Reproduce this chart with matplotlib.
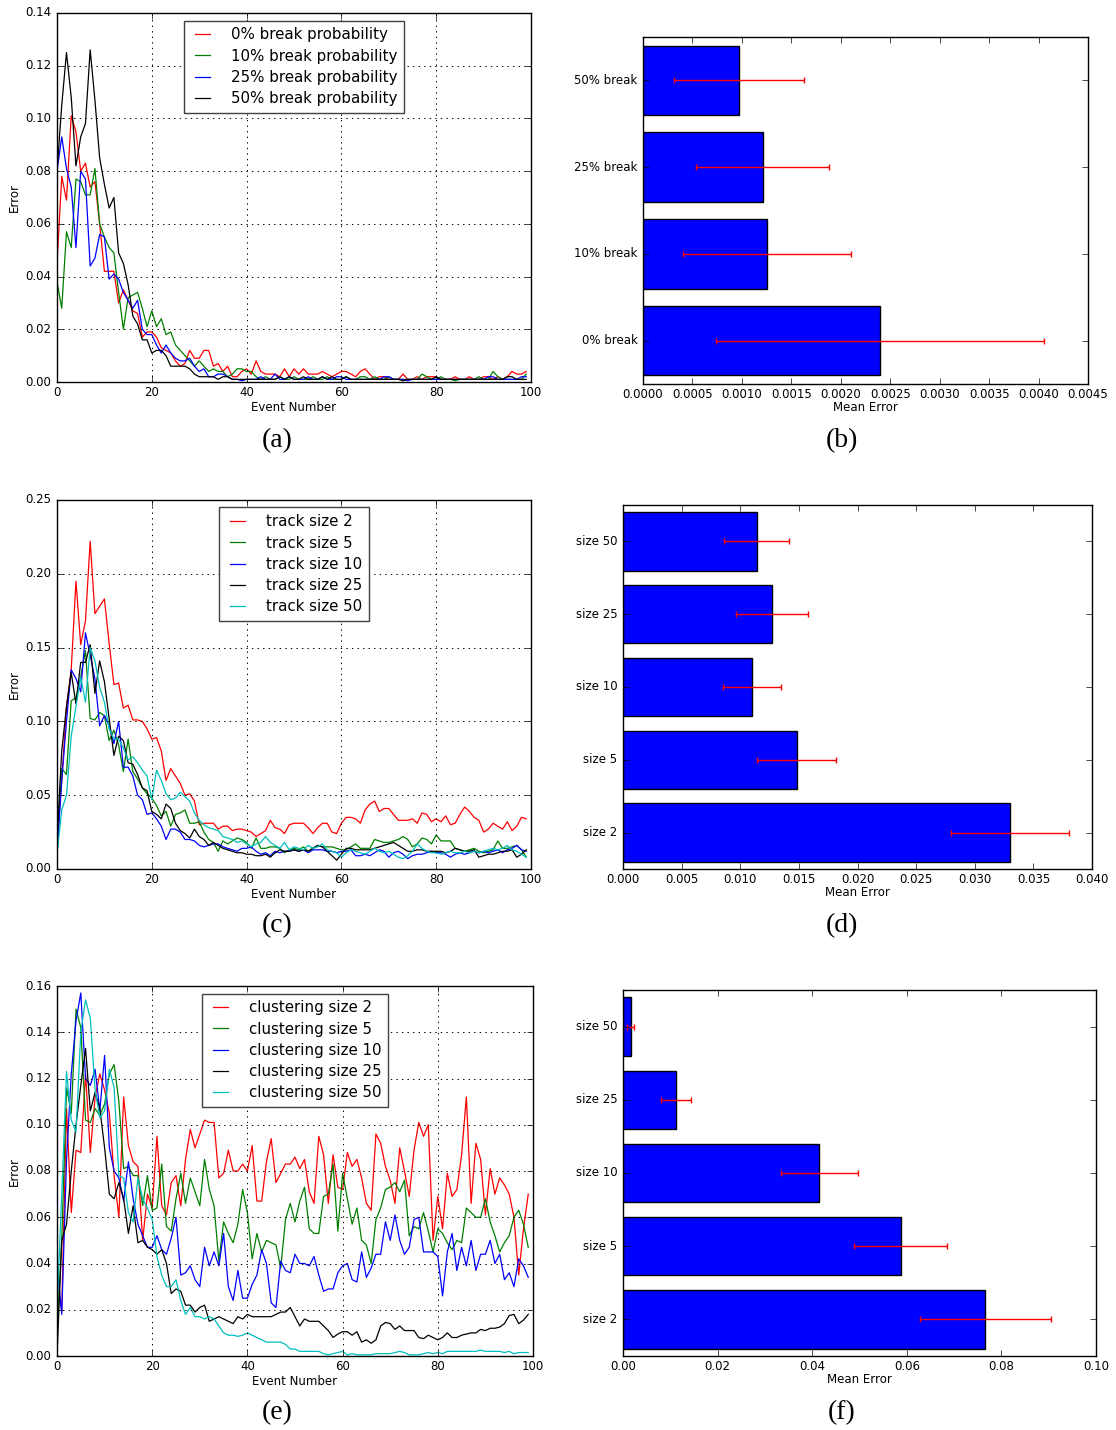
import numpy as np
import matplotlib
matplotlib.use('Agg')
from matplotlib import pyplot as plt
from matplotlib.ticker import FormatStrFormatter

# event index on the x axis of the line plots
events = np.arange(100)

# (a) error per event for different break probabilities
break_labels = ['0% break probability', '10% break probability',
                '25% break probability', '50% break probability']
break_0 = [0.045, 0.078, 0.069, 0.101, 0.095, 0.080, 0.083, 0.074, 0.076, 0.060,
           0.042, 0.042, 0.042, 0.030, 0.035, 0.031, 0.027, 0.026, 0.017, 0.019,
           0.019, 0.017, 0.013, 0.012, 0.011, 0.008, 0.006, 0.007, 0.012, 0.009,
           0.009, 0.012, 0.012, 0.006, 0.007, 0.004, 0.006, 0.002, 0.002, 0.004,
           0.005, 0.003, 0.008, 0.004, 0.003, 0.003, 0.003, 0.002, 0.005, 0.002,
           0.005, 0.003, 0.005, 0.003, 0.003, 0.003, 0.004, 0.003, 0.002, 0.003,
           0.004, 0.004, 0.003, 0.002, 0.004, 0.005, 0.003, 0.001, 0.002, 0.002,
           0.001, 0.001, 0.001, 0.003, 0.001, 0.001, 0.002, 0.001, 0.002, 0.002,
           0.002, 0.001, 0.001, 0.001, 0.002, 0.001, 0.001, 0.002, 0.001, 0.001,
           0.002, 0.002, 0.001, 0.002, 0.001, 0.002, 0.004, 0.003, 0.003, 0.004]
break_10 = [0.038, 0.028, 0.057, 0.051, 0.077, 0.076, 0.071, 0.071, 0.081, 0.060,
            0.055, 0.051, 0.049, 0.034, 0.020, 0.032, 0.033, 0.034, 0.028, 0.021,
            0.027, 0.021, 0.024, 0.018, 0.019, 0.014, 0.012, 0.010, 0.008, 0.006,
            0.008, 0.006, 0.004, 0.005, 0.004, 0.004, 0.002, 0.003, 0.005, 0.005,
            0.004, 0.004, 0.002, 0.001, 0.002, 0.001, 0.001, 0.002, 0.001, 0.001,
            0.002, 0.001, 0.001, 0.001, 0.002, 0.001, 0.001, 0.002, 0.001, 0.001,
            0.001, 0.002, 0.001, 0.001, 0.002, 0.002, 0.001, 0.002, 0.001, 0.001,
            0.002, 0.001, 0.001, 0.001, 0.001, 0.001, 0.001, 0.003, 0.002, 0.001,
            0.001, 0.002, 0.001, 0.001, 0.0005, 0.001, 0.001, 0.001, 0.001, 0.002,
            0.001, 0.001, 0.004, 0.002, 0.001, 0.001, 0.001, 0.001, 0.001, 0.003]
break_25 = [0.080, 0.093, 0.081, 0.074, 0.051, 0.080, 0.077, 0.044, 0.047, 0.056,
            0.055, 0.039, 0.041, 0.039, 0.034, 0.031, 0.028, 0.031, 0.020, 0.018,
            0.018, 0.014, 0.011, 0.014, 0.011, 0.009, 0.008, 0.008, 0.009, 0.006,
            0.004, 0.005, 0.002, 0.002, 0.003, 0.003, 0.002, 0.001, 0.001, 0.0005,
            0.001, 0.001, 0.001, 0.002, 0.001, 0.001, 0.003, 0.001, 0.001, 0.002,
            0.001, 0.001, 0.001, 0.002, 0.001, 0.001, 0.002, 0.001, 0.001, 0.002,
            0.002, 0.001, 0.001, 0.001, 0.001, 0.001, 0.001, 0.001, 0.001, 0.002,
            0.002, 0.001, 0.001, 0.001, 0.0005, 0.001, 0.001, 0.001, 0.001, 0.001,
            0.001, 0.001, 0.001, 0.001, 0.001, 0.001, 0.001, 0.001, 0.001, 0.001,
            0.001, 0.002, 0.002, 0.001, 0.001, 0.001, 0.001, 0.001, 0.002, 0.002]
break_50 = [0.080, 0.105, 0.125, 0.108, 0.082, 0.093, 0.098, 0.126, 0.107, 0.085,
            0.075, 0.066, 0.070, 0.049, 0.045, 0.037, 0.025, 0.022, 0.016, 0.016,
            0.011, 0.012, 0.012, 0.010, 0.006, 0.006, 0.006, 0.006, 0.005, 0.003,
            0.002, 0.002, 0.002, 0.002, 0.001, 0.002, 0.002, 0.001, 0.001, 0.001,
            0.001, 0.001, 0.001, 0.001, 0.001, 0.001, 0.001, 0.002, 0.001, 0.002,
            0.001, 0.001, 0.002, 0.001, 0.001, 0.001, 0.002, 0.001, 0.002, 0.001,
            0.001, 0.002, 0.001, 0.001, 0.001, 0.001, 0.001, 0.001, 0.001, 0.001,
            0.001, 0.001, 0.001, 0.0005, 0.001, 0.001, 0.001, 0.001, 0.001, 0.001,
            0.002, 0.001, 0.001, 0.001, 0.001, 0.001, 0.001, 0.001, 0.001, 0.001,
            0.001, 0.001, 0.001, 0.001, 0.001, 0.002, 0.002, 0.001, 0.001, 0.001]

# (c) error per event for different track sizes
track_labels = ['track size 2', 'track size 5', 'track size 10',
                'track size 25', 'track size 50']
track_2 = [0.020, 0.060, 0.110, 0.135, 0.195, 0.152, 0.168, 0.222, 0.173, 0.178,
           0.183, 0.153, 0.125, 0.126, 0.109, 0.111, 0.101, 0.101, 0.100, 0.095,
           0.088, 0.089, 0.080, 0.060, 0.068, 0.063, 0.058, 0.050, 0.051, 0.046,
           0.030, 0.031, 0.031, 0.031, 0.027, 0.029, 0.029, 0.026, 0.027, 0.027,
           0.026, 0.025, 0.022, 0.024, 0.026, 0.033, 0.028, 0.027, 0.024, 0.030,
           0.031, 0.031, 0.031, 0.028, 0.024, 0.028, 0.031, 0.031, 0.025, 0.024,
           0.031, 0.035, 0.035, 0.034, 0.031, 0.040, 0.044, 0.046, 0.039, 0.041,
           0.041, 0.037, 0.033, 0.033, 0.033, 0.034, 0.031, 0.038, 0.037, 0.032,
           0.034, 0.032, 0.036, 0.030, 0.031, 0.037, 0.042, 0.039, 0.035, 0.033,
           0.025, 0.027, 0.031, 0.029, 0.027, 0.032, 0.026, 0.029, 0.035, 0.034]
track_5 = [0.010, 0.068, 0.064, 0.114, 0.116, 0.130, 0.148, 0.102, 0.101, 0.106,
           0.104, 0.087, 0.094, 0.084, 0.066, 0.088, 0.066, 0.061, 0.055, 0.051,
           0.048, 0.043, 0.036, 0.039, 0.029, 0.037, 0.038, 0.040, 0.031, 0.031,
           0.032, 0.025, 0.020, 0.018, 0.012, 0.019, 0.017, 0.019, 0.021, 0.020,
           0.018, 0.014, 0.021, 0.014, 0.014, 0.015, 0.015, 0.014, 0.011, 0.013,
           0.014, 0.013, 0.015, 0.012, 0.014, 0.016, 0.015, 0.015, 0.015, 0.014,
           0.013, 0.013, 0.015, 0.017, 0.014, 0.014, 0.014, 0.020, 0.019, 0.018,
           0.018, 0.019, 0.020, 0.022, 0.020, 0.015, 0.017, 0.021, 0.020, 0.017,
           0.023, 0.019, 0.019, 0.019, 0.014, 0.013, 0.012, 0.013, 0.014, 0.012,
           0.011, 0.012, 0.013, 0.019, 0.014, 0.014, 0.015, 0.016, 0.013, 0.008]
track_10 = [0.010, 0.060, 0.100, 0.135, 0.129, 0.120, 0.160, 0.145, 0.129, 0.097,
            0.104, 0.097, 0.085, 0.100, 0.069, 0.069, 0.063, 0.050, 0.047, 0.037,
            0.038, 0.034, 0.029, 0.020, 0.027, 0.027, 0.025, 0.020, 0.020, 0.019,
            0.016, 0.015, 0.016, 0.017, 0.017, 0.015, 0.014, 0.013, 0.012, 0.014,
            0.014, 0.015, 0.012, 0.010, 0.011, 0.009, 0.012, 0.011, 0.012, 0.012,
            0.013, 0.012, 0.013, 0.011, 0.013, 0.013, 0.013, 0.012, 0.012, 0.011,
            0.012, 0.012, 0.013, 0.009, 0.009, 0.010, 0.009, 0.011, 0.013, 0.012,
            0.008, 0.011, 0.012, 0.010, 0.007, 0.009, 0.010, 0.010, 0.011, 0.012,
            0.011, 0.011, 0.010, 0.008, 0.010, 0.011, 0.010, 0.011, 0.012, 0.011,
            0.012, 0.011, 0.012, 0.013, 0.011, 0.013, 0.014, 0.016, 0.013, 0.012]
track_25 = [0.020, 0.080, 0.110, 0.133, 0.112, 0.140, 0.140, 0.152, 0.119, 0.141,
            0.127, 0.102, 0.077, 0.090, 0.087, 0.072, 0.071, 0.064, 0.055, 0.053,
            0.039, 0.037, 0.034, 0.044, 0.041, 0.031, 0.026, 0.024, 0.021, 0.027,
            0.022, 0.020, 0.016, 0.018, 0.016, 0.014, 0.013, 0.012, 0.011, 0.011,
            0.010, 0.010, 0.009, 0.009, 0.010, 0.008, 0.011, 0.013, 0.012, 0.012,
            0.013, 0.012, 0.013, 0.012, 0.014, 0.016, 0.015, 0.012, 0.009, 0.006,
            0.010, 0.014, 0.014, 0.013, 0.013, 0.013, 0.013, 0.014, 0.015, 0.016,
            0.017, 0.018, 0.016, 0.014, 0.012, 0.012, 0.013, 0.013, 0.012, 0.012,
            0.012, 0.012, 0.011, 0.012, 0.014, 0.013, 0.012, 0.012, 0.013, 0.008,
            0.009, 0.010, 0.010, 0.011, 0.012, 0.012, 0.013, 0.008, 0.010, 0.013]
track_50 = [0.010, 0.040, 0.050, 0.090, 0.110, 0.130, 0.113, 0.150, 0.141, 0.123,
            0.113, 0.095, 0.088, 0.088, 0.082, 0.074, 0.076, 0.072, 0.067, 0.063,
            0.047, 0.067, 0.060, 0.051, 0.047, 0.048, 0.052, 0.049, 0.046, 0.038,
            0.033, 0.030, 0.028, 0.027, 0.026, 0.022, 0.021, 0.020, 0.018, 0.019,
            0.017, 0.015, 0.017, 0.018, 0.022, 0.018, 0.016, 0.014, 0.018, 0.013,
            0.015, 0.014, 0.013, 0.016, 0.014, 0.015, 0.017, 0.013, 0.012, 0.011,
            0.008, 0.011, 0.013, 0.012, 0.011, 0.010, 0.012, 0.014, 0.012, 0.011,
            0.012, 0.010, 0.008, 0.007, 0.009, 0.012, 0.017, 0.014, 0.012, 0.011,
            0.011, 0.010, 0.011, 0.012, 0.011, 0.011, 0.012, 0.011, 0.012, 0.011,
            0.012, 0.013, 0.014, 0.013, 0.014, 0.016, 0.013, 0.012, 0.010, 0.008]

# (e) error per event for different clustering sizes
clust_labels = ['clustering size 2', 'clustering size 5', 'clustering size 10',
                'clustering size 25', 'clustering size 50']
clust_2 = [0.030, 0.020, 0.107, 0.062, 0.089, 0.088, 0.122, 0.088, 0.112, 0.122,
           0.115, 0.105, 0.078, 0.060, 0.112, 0.091, 0.084, 0.082, 0.050, 0.070,
           0.064, 0.095, 0.065, 0.061, 0.075, 0.078, 0.065, 0.085, 0.098, 0.090,
           0.096, 0.102, 0.101, 0.101, 0.077, 0.079, 0.089, 0.080, 0.080, 0.083,
           0.080, 0.091, 0.067, 0.067, 0.084, 0.094, 0.075, 0.079, 0.083, 0.083,
           0.086, 0.081, 0.085, 0.071, 0.066, 0.095, 0.087, 0.066, 0.087, 0.073,
           0.072, 0.088, 0.082, 0.085, 0.077, 0.066, 0.063, 0.096, 0.092, 0.082,
           0.076, 0.066, 0.090, 0.080, 0.069, 0.089, 0.101, 0.095, 0.100, 0.050,
           0.069, 0.055, 0.079, 0.069, 0.072, 0.087, 0.112, 0.066, 0.092, 0.085,
           0.061, 0.081, 0.070, 0.077, 0.074, 0.070, 0.060, 0.035, 0.055, 0.070]
clust_5 = [0.010, 0.050, 0.116, 0.105, 0.150, 0.142, 0.102, 0.101, 0.107, 0.104,
           0.109, 0.122, 0.126, 0.110, 0.081, 0.082, 0.078, 0.078, 0.065, 0.078,
           0.063, 0.064, 0.083, 0.056, 0.054, 0.068, 0.079, 0.066, 0.077, 0.071,
           0.065, 0.085, 0.072, 0.065, 0.041, 0.058, 0.053, 0.049, 0.057, 0.072,
           0.062, 0.042, 0.053, 0.045, 0.050, 0.049, 0.048, 0.038, 0.059, 0.066,
           0.058, 0.067, 0.073, 0.055, 0.053, 0.053, 0.069, 0.070, 0.083, 0.054,
           0.079, 0.068, 0.057, 0.064, 0.050, 0.048, 0.040, 0.059, 0.064, 0.072,
           0.073, 0.075, 0.071, 0.076, 0.052, 0.056, 0.055, 0.062, 0.054, 0.045,
           0.055, 0.053, 0.049, 0.046, 0.050, 0.049, 0.064, 0.062, 0.060, 0.060,
           0.068, 0.058, 0.052, 0.045, 0.049, 0.052, 0.060, 0.063, 0.057, 0.047]
clust_10 = [0.040, 0.018, 0.085, 0.122, 0.145, 0.157, 0.120, 0.117, 0.124, 0.106,
            0.130, 0.090, 0.080, 0.077, 0.067, 0.084, 0.068, 0.057, 0.052, 0.047,
            0.047, 0.052, 0.046, 0.044, 0.051, 0.060, 0.035, 0.036, 0.039, 0.033,
            0.030, 0.047, 0.039, 0.045, 0.039, 0.053, 0.030, 0.024, 0.037, 0.025,
            0.025, 0.031, 0.035, 0.046, 0.040, 0.023, 0.021, 0.041, 0.037, 0.036,
            0.044, 0.040, 0.040, 0.039, 0.043, 0.035, 0.028, 0.029, 0.029, 0.036,
            0.039, 0.040, 0.033, 0.032, 0.045, 0.034, 0.038, 0.044, 0.044, 0.058,
            0.050, 0.061, 0.050, 0.044, 0.047, 0.059, 0.060, 0.045, 0.045, 0.045,
            0.043, 0.026, 0.045, 0.053, 0.037, 0.047, 0.039, 0.050, 0.037, 0.044,
            0.044, 0.050, 0.040, 0.044, 0.033, 0.036, 0.030, 0.042, 0.039, 0.034]
clust_25 = [0.000, 0.050, 0.057, 0.080, 0.100, 0.117, 0.133, 0.106, 0.114, 0.107,
            0.090, 0.070, 0.068, 0.075, 0.068, 0.053, 0.065, 0.049, 0.050, 0.047,
            0.046, 0.044, 0.046, 0.040, 0.027, 0.029, 0.028, 0.022, 0.022, 0.019,
            0.021, 0.022, 0.015, 0.016, 0.017, 0.016, 0.015, 0.014, 0.017, 0.016,
            0.018, 0.017, 0.017, 0.017, 0.017, 0.017, 0.018, 0.019, 0.019, 0.021,
            0.017, 0.013, 0.016, 0.015, 0.015, 0.015, 0.013, 0.011, 0.008, 0.0095,
            0.0105, 0.0105, 0.009, 0.0105, 0.006, 0.007, 0.0055, 0.007, 0.013, 0.0145,
            0.014, 0.0115, 0.013, 0.011, 0.011, 0.011, 0.008, 0.0075, 0.009, 0.008,
            0.007, 0.008, 0.010, 0.008, 0.008, 0.009, 0.0095, 0.010, 0.010, 0.0115,
            0.011, 0.012, 0.012, 0.0125, 0.014, 0.0175, 0.018, 0.014, 0.0155, 0.018]
clust_50 = [0.020, 0.070, 0.123, 0.102, 0.097, 0.140, 0.154, 0.146, 0.115, 0.103,
            0.106, 0.124, 0.116, 0.078, 0.077, 0.062, 0.058, 0.077, 0.068, 0.064,
            0.059, 0.043, 0.035, 0.030, 0.030, 0.033, 0.024, 0.018, 0.021, 0.017,
            0.017, 0.016, 0.017, 0.016, 0.013, 0.010, 0.009, 0.009, 0.0085, 0.009,
            0.010, 0.009, 0.008, 0.007, 0.006, 0.006, 0.006, 0.006, 0.005, 0.003,
            0.003, 0.002, 0.002, 0.002, 0.002, 0.002, 0.001, 0.0005, 0.001, 0.0015,
            0.002, 0.0005, 0.001, 0.0005, 0.0005, 0.0005, 0.0005, 0.001, 0.001, 0.001,
            0.001, 0.0015, 0.002, 0.0015, 0.0005, 0.0005, 0.0005, 0.001, 0.0015, 0.001,
            0.0015, 0.001, 0.002, 0.002, 0.002, 0.002, 0.002, 0.002, 0.002, 0.0025,
            0.002, 0.002, 0.002, 0.002, 0.0015, 0.002, 0.001, 0.0015, 0.0015, 0.0015]

# (b), (d), (f) mean error with error bars (bottom bar first)
break_bar_labels = ['0% break', '10% break', '25% break', '50% break']
break_mean = [0.00240, 0.00125, 0.00121, 0.00097]
break_err = [0.00166, 0.00085, 0.00067, 0.00066]

size_bar_labels = ['size 2', 'size 5', 'size 10', 'size 25', 'size 50']
track_mean = [0.0330, 0.0148, 0.0110, 0.0127, 0.0114]
track_err = [0.0050, 0.0034, 0.0025, 0.0031, 0.0028]

clust_mean = [0.0766, 0.0587, 0.0415, 0.0112, 0.0016]
clust_err = [0.0139, 0.0099, 0.0082, 0.0031, 0.0008]

line_colors = ['r', 'g', 'b', 'k', 'c']

plt.style.use('classic')
plt.rcParams['figure.facecolor'] = 'white'
plt.rcParams['savefig.facecolor'] = 'white'
plt.rcParams['font.family'] = 'DejaVu Sans'
plt.rcParams['xtick.labelsize'] = 8.5
plt.rcParams['ytick.labelsize'] = 8.5
plt.rcParams['axes.labelsize'] = 8.5
plt.rcParams['xtick.major.pad'] = 3

fig = plt.figure(figsize=(11.16, 14.30), dpi=100)
W, H = 1116.0, 1430.0


def add_axes(left, top, right, bottom):
    return fig.add_axes([left / W, 1 - bottom / H, (right - left) / W, (bottom - top) / H])


def line_panel(ax, series, labels, ymax, ystep):
    for vals, lab, col in zip(series, labels, line_colors):
        ax.plot(events, vals, color=col, lw=0.9, label=lab)
    ax.set_xlim(0, 100)
    ax.set_ylim(0, ymax)
    ax.set_xticks(np.arange(0, 101, 20))
    ax.set_yticks(np.arange(0, ymax + ystep / 2, ystep))
    ax.yaxis.set_major_formatter(FormatStrFormatter('%.2f'))
    ax.grid(True, color='k', linestyle=':', linewidth=0.7)
    ax.set_xlabel('Event Number', labelpad=1)
    ax.set_ylabel('Error', labelpad=3)
    ax.legend(loc='upper center', fontsize=10.8, handlelength=1.6, handletextpad=1.1,
              labelspacing=0.42, borderpad=0.45, numpoints=2, fancybox=False,
              frameon=True, edgecolor='0.25')


def bar_panel(ax, labels, means, errs, xmax, xstep, fmt):
    pos = np.arange(len(labels))
    ax.barh(pos, means, height=0.8, align='center', color='b', edgecolor='k',
            linewidth=1.0, xerr=errs, ecolor='r',
            error_kw=dict(capsize=2.5, capthick=1.0, elinewidth=1.0))
    ax.set_yticks(pos)
    ax.set_yticklabels(labels)
    ax.set_ylim(-0.5, len(labels) - 0.5)
    ax.set_xlim(0, xmax)
    ax.set_xticks(np.arange(0, xmax + xstep / 2, xstep))
    ax.xaxis.set_major_formatter(FormatStrFormatter(fmt))
    ax.set_xlabel('Mean Error', labelpad=0)


ax_a = add_axes(57, 13, 531, 382)
line_panel(ax_a, [break_0, break_10, break_25, break_50], break_labels, 0.14, 0.02)

ax_c = add_axes(57, 500, 531, 869)
line_panel(ax_c, [track_2, track_5, track_10, track_25, track_50], track_labels, 0.25, 0.05)

ax_e = add_axes(57, 986, 533, 1356)
line_panel(ax_e, [clust_2, clust_5, clust_10, clust_25, clust_50], clust_labels, 0.16, 0.02)

ax_b = add_axes(643, 37, 1088, 384)
bar_panel(ax_b, break_bar_labels, break_mean, break_err, 0.0045, 0.0005, '%.4f')

ax_d = add_axes(623, 505, 1092, 869)
bar_panel(ax_d, size_bar_labels, track_mean, track_err, 0.040, 0.005, '%.3f')

ax_f = add_axes(623, 990, 1096, 1356)
bar_panel(ax_f, size_bar_labels, clust_mean, clust_err, 0.10, 0.02, '%.2f')

# sub-figure captions
for lab, x, y in [('(a)', 277, 441), ('(b)', 842, 441), ('(c)', 277, 926),
                  ('(d)', 842, 926), ('(e)', 277, 1413), ('(f)', 842, 1413)]:
    fig.text(x / W, 1 - y / H, lab, ha='center', va='center',
             family='Liberation Serif', fontsize=20)

fig.savefig('out.png', dpi=100)
